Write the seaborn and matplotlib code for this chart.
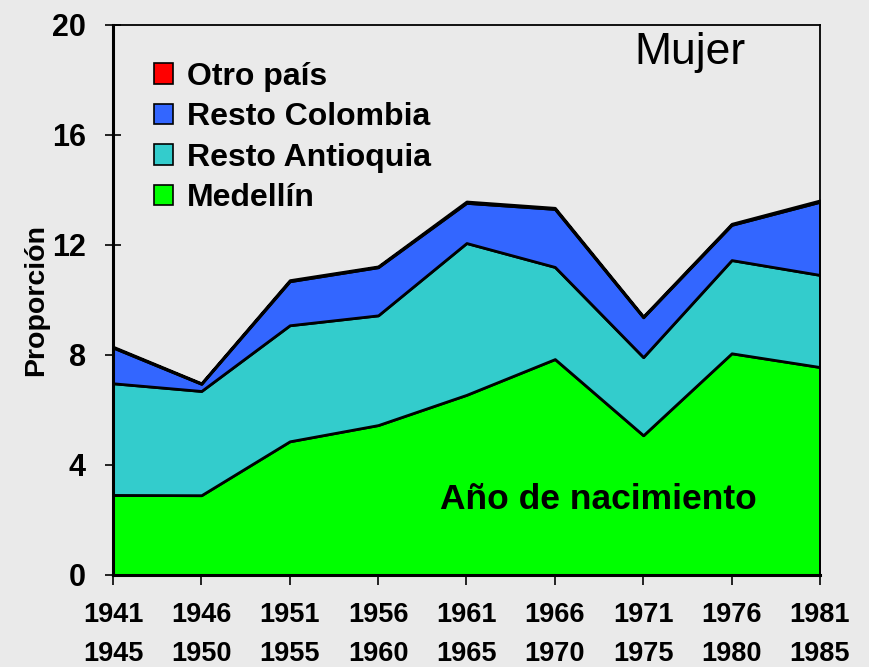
import matplotlib
matplotlib.use("Agg")
import matplotlib.pyplot as plt
from matplotlib.patches import Patch
import seaborn as sns

# cohort groups (birth year)
periods = ["1941\n1945", "1946\n1950", "1951\n1955", "1956\n1960", "1961\n1965",
           "1966\n1970", "1971\n1975", "1976\n1980", "1981\n1985"]

# layer values (stacked)
medellin = [2.91, 2.90, 4.86, 5.45, 6.55, 7.85, 5.08, 8.06, 7.56]
resto_antioquia = [4.06, 3.79, 4.22, 3.99, 5.52, 3.35, 2.84, 3.39, 3.35]
resto_colombia = [1.30, 0.26, 1.60, 1.75, 1.46, 2.11, 1.45, 1.28, 2.66]
otro_pais = [0.03, 0.02, 0.04, 0.03, 0.05, 0.04, 0.03, 0.04, 0.05]

labels = ["Medellín", "Resto Antioquia", "Resto Colombia", "Otro país"]
colors = ["#00FF00", "#33CCCC", "#3366FF", "#FF0000"]
bg = "#EAEAEA"

sns.set_style("white", {"text.color": "black", "axes.labelcolor": "black",
                        "xtick.color": "black", "ytick.color": "black"})
plt.rcParams["font.family"] = ["Liberation Sans", "DejaVu Sans"]

fig = plt.figure(figsize=(8.69, 6.67), dpi=100, facecolor=bg)
ax = fig.add_axes([0.130, 0.138, 0.8136, 0.8246])
ax.set_facecolor(bg)

x = list(range(len(periods)))
ax.stackplot(x, medellin, resto_antioquia, resto_colombia, otro_pais,
             colors=colors, edgecolor="black", linewidth=2)

ax.set_xlim(0, len(periods) - 1)
ax.set_ylim(0, 20)
ax.set_yticks([0, 4, 8, 12, 16, 20])
ax.set_xticks(x)
ax.set_xticklabels(periods, fontsize=19.5, fontweight="bold", linespacing=1.66)
ax.tick_params(axis="y", direction="inout", length=11, width=1.2, pad=14,
               labelsize=22, left=True, colors="black")
ax.tick_params(axis="x", direction="out", length=7, width=1.2, pad=12.5,
               bottom=True, colors="black")
for t in ax.get_yticklabels():
    t.set_fontweight("bold")

for side in ["left", "bottom"]:
    ax.spines[side].set_linewidth(2.2)
    ax.spines[side].set_color("black")
for side in ["top", "right"]:
    ax.spines[side].set_linewidth(1.3)
    ax.spines[side].set_color("black")

ax.set_ylabel("Proporción", fontsize=20.5, fontweight="bold", labelpad=2,
              color="black")

handles = [Patch(facecolor=c, edgecolor="black", linewidth=1.2, label=l)
           for c, l in zip(colors[::-1], labels[::-1])]
leg = ax.legend(handles=handles, loc="upper left", bbox_to_anchor=(0.058, 0.933),
                frameon=False, handlelength=0.6, handleheight=0.6,
                handletextpad=0.42, labelspacing=0.33, borderpad=0, borderaxespad=0,
                prop={"weight": "bold", "size": 23})
for t in leg.get_texts():
    t.set_color("black")

ax.text(0.687, 0.137, "Año de nacimiento", transform=ax.transAxes,
        fontsize=25.5, fontweight="bold", ha="center", va="center", color="black")
ax.text(0.816, 0.95, "Mujer", transform=ax.transAxes,
        fontsize=32, ha="center", va="center", color="black")

fig.savefig("out.png", dpi=100, facecolor=bg)
